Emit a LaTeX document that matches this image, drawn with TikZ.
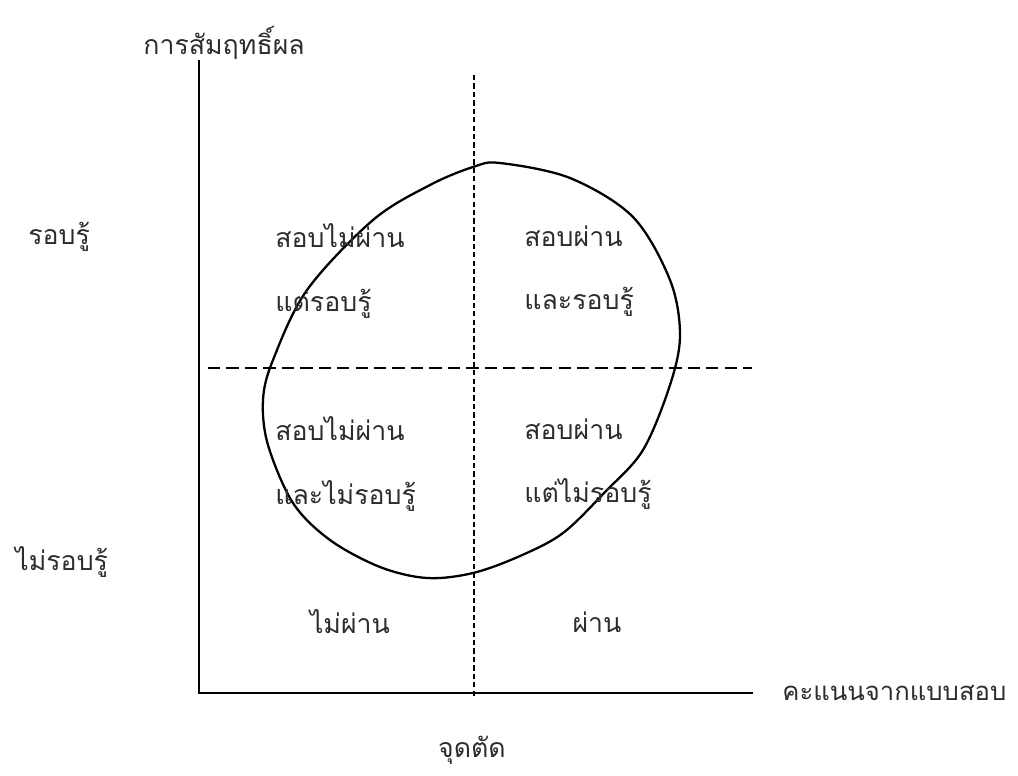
\documentclass[tikz,border=0pt]{standalone}
\usepackage{fontspec}
\usepackage{tikz}
\usetikzlibrary{positioning}
\newfontfamily\thaifont[Script=Thai]{Loma}
\definecolor{inkgray}{RGB}{45,45,45}
\tikzset{
  axisline/.style={line width=1.1pt, color=black},
  cutline/.style={line width=0.9pt, color=black, dash pattern=on 7pt off 3.5pt},
  cutvline/.style={line width=0.9pt, color=black, dash pattern=on 3pt off 1.8pt},
  zone/.style={font=\thaifont\fontsize{15.2}{36}\selectfont, color=inkgray, anchor=west, align=left, inner sep=0pt},
  axlabel/.style={font=\thaifont\fontsize{15.2}{20}\selectfont, color=inkgray, inner sep=0pt}
}
\begin{document}
\begin{tikzpicture}[x=0.02cm, y=-0.02cm]
  \useasboundingbox (0,0) rectangle (1018,775);
  % Axes
  \coordinate (origin) at (199,693);
  \coordinate (ytop) at (199,60);
  \coordinate (xend) at (753,693);
  \draw[axisline] (ytop) -- (origin) -- (xend);
  % Cut lines
  \coordinate (cuttop) at (474,75);
  \coordinate (cutbot) at (474,697);
  \coordinate (midleft) at (208,368);
  \coordinate (midright) at (752,368);
  \draw[cutvline] (cuttop) -- (cutbot);
  \draw[cutline] (midleft) -- (midright);
  % Group boundary
  \draw[line width=1.3pt] plot[smooth cycle, tension=0.55] coordinates {
    (500,163) (570,178) (633,217) (670,280) (680,335) (670,385)
    (643,450) (605,492) (563,533) (520,556) (473,573) (427,578)
    (380,567) (330,540) (293,503) (268,445) (263,400) (273,360)
    (307,290) (373,220) (430,185) (473,167)};
  % Axis labels
  \node[axlabel, anchor=west] (ylab) at (143,43) {การสัมฤทธิ์ผล};
  \node[axlabel, anchor=west] (know) at (28,237) {รอบรู้};
  \node[axlabel, anchor=west] (noknow) at (15,562) {ไม่รอบรู้};
  \node[axlabel, anchor=west, font=\thaifont\fontsize{14.6}{20}\selectfont] (xlab) at (782,693) {คะแนนจากแบบสอบ};
  \node[axlabel] (cutlab) at (472,750) {จุดตัด};
  % Quadrants
  \node[zone] (failknow) at (275,271) {สอบไม่ผ่าน\\แต่รอบรู้};
  \node[zone] (passknow) at (524,271) {สอบผ่าน\\และรอบรู้};
  \node[zone] (failnot) at (275,464) {สอบไม่ผ่าน\\และไม่รอบรู้};
  \node[zone] (passnot) at (524,464) {สอบผ่าน\\แต่ไม่รอบรู้};
  \node[axlabel] (fail) at (350,622) {ไม่ผ่าน};
  \node[axlabel] (pass) at (597,622) {ผ่าน};
\end{tikzpicture}
\end{document}
